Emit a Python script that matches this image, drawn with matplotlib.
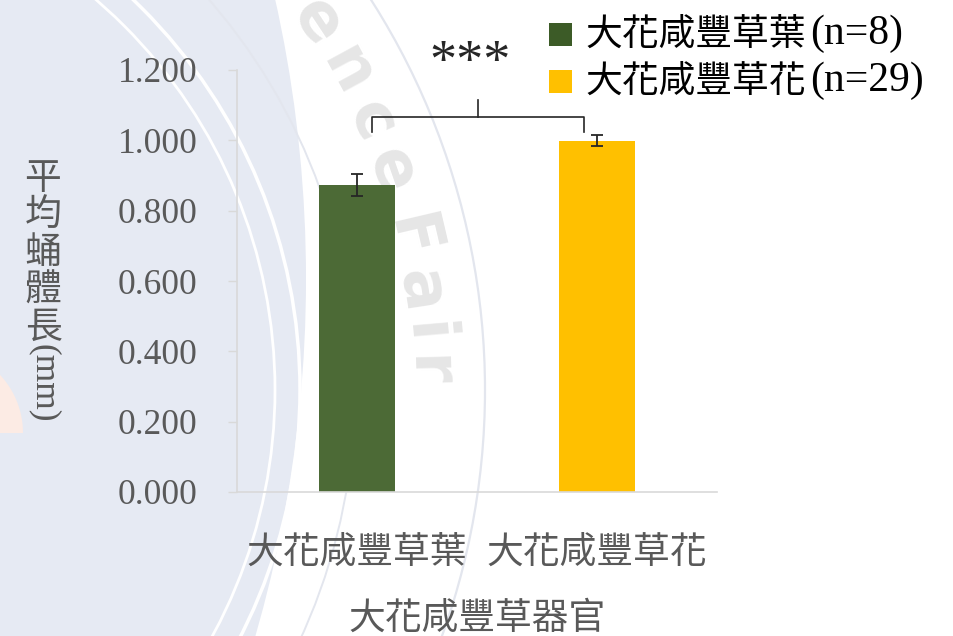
import matplotlib
matplotlib.use("Agg")
import matplotlib.pyplot as plt
from matplotlib.patches import Circle, Rectangle, Polygon
import numpy as np

# ---- data ----
organs = ["大花咸豐草葉", "大花咸豐草花"]
mean_length = [0.873, 0.999]
std_error = [0.031, 0.016]
sample_sizes = [8, 29]
bar_colors = ["#4c6a36", "#ffc000"]
legend_colors = ["#3c5b27", "#ffc000"]
y_ticks = [0.0, 0.2, 0.4, 0.6, 0.8, 1.0, 1.2]
significance = "***"
x_title = "大花咸豐草器官"
y_title_cjk = "平均蛹體長"
y_title_unit = "(mm)"
seal_text = "ence Fair"

W, H = 954, 636
CJK = "Noto Sans CJK TC"
SERIF = "Liberation Serif"
GRAY_TXT = "#595959"
AXIS_GRAY = "#d9d9d9"

fig = plt.figure(figsize=(W / 100, H / 100), dpi=100)
fig.patch.set_facecolor("white")


def fx(px):
    return px / W


def fy(py):
    return 1 - py / H


# ---- background seal (pixel coordinates) ----
bg = fig.add_axes([0, 0, 1, 1], zorder=0)
bg.set_xlim(0, W)
bg.set_ylim(H, 0)
bg.axis("off")
bg.add_patch(Circle((-978, 279), 1284, facecolor="#e6eaf3", edgecolor="none"))
cx, cy = -240, 390
for r, col, lw in [(515, "white", 2.0), (540, "white", 2.5),
                   (595, "#e3e6ee", 1.4), (725, "#e3e6ee", 1.6)]:
    bg.add_patch(Circle((cx, cy), r, facecolor="none", edgecolor=col, lw=lw))
t = np.linspace(0, np.pi, 60)
ox, oy, orad = -62, 433, 85
pts = np.column_stack([ox + orad * np.cos(t), oy - orad * np.sin(t)])
bg.add_patch(Polygon(pts, closed=True, facecolor="#fcebe4", edgecolor="none"))
# lettering around the seal ring
angles = [-33.5, -28.5, -23.8, -19.2, None, -13.2, -8.6, -4.9, -1.6]
for ch, ang in zip(seal_text, angles):
    if ang is None:
        continue
    th = np.deg2rad(ang)
    px = cx + 668 * np.cos(th)
    py = cy + 668 * np.sin(th)
    bg.text(px, py, ch, fontsize=46, fontweight="bold", color="#e6e6e6",
            ha="center", va="center", rotation=-(90 + ang),
            rotation_mode="anchor", clip_on=True)

# ---- main axes ----
ax = fig.add_axes([fx(237), fy(492), fx(717) - fx(237), (492 - 70) / H], zorder=2)
ax.set_facecolor("none")
x = np.arange(len(organs))
ax.bar(x, mean_length, width=0.315, color=bar_colors, zorder=2,
       yerr=std_error, capsize=4.5,
       error_kw=dict(ecolor="#262626", elinewidth=1.3, capthick=1.3))
ax.set_xlim(-0.5, 1.5)
ax.set_ylim(0, 1.2)
ax.set_yticks(y_ticks)
ax.set_yticklabels([f"{v:.3f}" for v in y_ticks], fontfamily=SERIF,
                   fontsize=25.5, color=GRAY_TXT)
ax.set_xticks(x)
ax.set_xticklabels(organs, fontfamily=CJK, fontsize=26.5, color=GRAY_TXT)
ax.tick_params(axis="y", direction="out", length=6.5, width=1.0,
               color=AXIS_GRAY, pad=22)
ax.tick_params(axis="x", length=0, pad=29)
for side in ("top", "right"):
    ax.spines[side].set_visible(False)
for side in ("left", "bottom"):
    ax.spines[side].set_color(AXIS_GRAY)
    ax.spines[side].set_linewidth(1.2)

# significance bracket between the two bars
top = max(m + e for m, e in zip(mean_length, std_error))
x0, x1 = x[0] + 0.063, x[1] - 0.055
y_leg = top + 0.009
y_bar = top + 0.051
ax.plot([x0, x0, x1, x1], [y_leg, y_bar, y_bar, y_leg], color="#262626",
        lw=1.2, clip_on=False, zorder=3)
xm = (x0 + x1) / 2
ax.plot([xm, xm], [y_bar, y_bar + 0.049], color="#262626", lw=1.2,
        clip_on=False, zorder=3)
ax.text(0.469, 1.219, significance, fontfamily=SERIF, fontsize=39,
        ha="center", va="center", color="#262626", clip_on=False)

# axis titles
fig.text(fx(477), fy(618), x_title, fontfamily=CJK, fontsize=26.5,
         color=GRAY_TXT, ha="center", va="center")
for i, ch in enumerate(y_title_cjk):
    fig.text(fx(43), fy(178 + 37.3 * i), ch, fontfamily=CJK, fontsize=26.5,
             color=GRAY_TXT, ha="center", va="center")
fig.text(fx(44), fy(383), y_title_unit, fontfamily=SERIF, fontsize=25.5,
         color=GRAY_TXT, ha="center", va="center", rotation=-90)

# legend
for i, (name, n, col) in enumerate(zip(organs, sample_sizes, legend_colors)):
    yc = 34.5 + 47 * i
    fig.patches.append(Rectangle((fx(549), fy(yc + 11.5)), 23 / W, 23 / H,
                                 transform=fig.transFigure, facecolor=col,
                                 edgecolor="none", zorder=3))
    fig.text(fx(585), fy(yc), name, fontfamily=CJK, fontsize=26.5,
             color="black", ha="left", va="center")
    fig.text(fx(810), fy(yc - 1), f"(n={n})", fontfamily=SERIF, fontsize=30,
             color="black", ha="left", va="center")

fig.savefig("out.png", dpi=100, facecolor="white")
